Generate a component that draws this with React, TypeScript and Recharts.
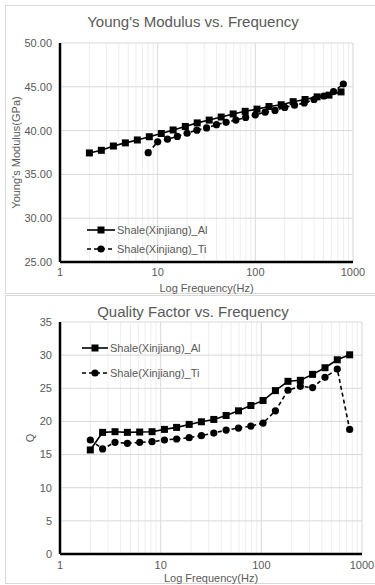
import { CartesianGrid, ReferenceLine, Scatter, ScatterChart, XAxis, YAxis } from "recharts";

const FONT = '"Liberation Sans", Arial, sans-serif';
const INK = "#595959";

// frequencies (Hz) shared by the Al runs and the Ti quality factor run
const freqs = [2, 2.65, 3.52, 4.67, 6.19, 8.21, 10.9, 14.4, 19.2, 25.4, 33.7, 44.7, 59.3, 78.7, 104, 138, 184, 244, 323, 429, 568, 754];
// Ti modulus run starts later with its own sweep
const tiFreqs = [8, 10, 12.6, 15.9, 20, 25.2, 31.7, 40, 50.2, 63.2, 79.6, 100, 126, 159, 200, 252, 317, 399, 502, 632, 796];

const youngAl = [37.45, 37.75, 38.24, 38.6, 38.93, 39.3, 39.67, 40.07, 40.47, 40.88, 41.2, 41.55, 41.9, 42.2, 42.45, 42.75, 42.95, 43.3, 43.55, 43.85, 44.05, 44.42];
const youngTi = [37.48, 38.72, 39.02, 39.34, 39.7, 40.05, 40.3, 40.68, 40.95, 41.2, 41.5, 41.8, 42.1, 42.3, 42.65, 42.9, 43.15, 43.55, 43.95, 44.45, 45.32];

const qAl = [15.7, 18.35, 18.45, 18.35, 18.4, 18.45, 18.8, 19.1, 19.55, 19.95, 20.3, 20.9, 21.6, 22.4, 23.15, 24.65, 26.05, 26.2, 27.1, 28.1, 29.3, 30.05];
const qTi = [17.2, 15.85, 16.85, 16.7, 16.85, 16.95, 17.2, 17.35, 17.55, 17.85, 18.25, 18.7, 19.0, 19.3, 19.75, 21.6, 24.7, 25.3, 25.1, 26.65, 27.9, 18.8];

const seriesNames = ["Shale(Xinjiang)_Al", "Shale(Xinjiang)_Ti"];

const xTicks = [1, 2, 3, 4, 5, 6, 7, 8, 9, 10, 20, 30, 40, 50, 60, 70, 80, 90, 100, 200, 300, 400, 500, 600, 700, 800, 900, 1000];
const xMajor = [1, 10, 100, 1000];
const youngTicks = [25, 30, 35, 40, 45, 50];
const qTicks = [0, 5, 10, 15, 20, 25, 30, 35];

function toPoints(xs: number[], ys: number[]) {
  return xs.map((f, i) => ({ f, v: ys[i] }));
}

const squareShape = (p: any) => <rect x={p.cx - 3.5} y={p.cy - 3.5} width={7} height={7} fill="#000" />;
const circleShape = (p: any) => <circle cx={p.cx} cy={p.cy} r={3.6} fill="#000" />;

type PanelProps = {
  top: number;
  height: number;
  title: string;
  titleY: number;
  plotTop: number;
  plotRight: number;
  xAxisHeight: number;
  tickSize: number;
  labelOffset: number;
  yDomain: [number, number];
  yTicks: number[];
  yDigits: number;
  yLabel: string;
  yLabelX: number;
  al: { f: number; v: number }[];
  ti: { f: number; v: number }[];
  legendY: [number, number];
  legendX: number;
  legendLineW: number;
};

function LegendRow({ y, x, w, dashed }: { y: number; x: number; w: number; dashed: boolean }) {
  return (
    <div style={{ position: "absolute", left: x, top: y - 8, height: 16, display: "flex", alignItems: "center" }}>
      <svg width={w} height={16}>
        <line x1={0} y1={8} x2={w} y2={8} stroke="#000" strokeWidth={1.6} strokeDasharray={dashed ? "4 3" : undefined} />
        {dashed ? (
          <circle cx={w / 2} cy={8} r={3.6} fill="#000" />
        ) : (
          <rect x={w / 2 - 3.5} y={4.5} width={7} height={7} fill="#000" />
        )}
      </svg>
      <span style={{ marginLeft: 2, fontSize: 11, color: INK }}>{seriesNames[dashed ? 1 : 0]}</span>
    </div>
  );
}

function Panel(props: PanelProps) {
  const { top, height } = props;
  return (
    <div style={{ position: "absolute", left: 0, top, width: 375, height }}>
      <div
        style={{
          position: "absolute",
          left: 5,
          top: 0,
          width: 380,
          height: height - 1,
          border: "1px solid #d9d9d9",
          boxSizing: "border-box"
        }}
      />
      <div
        style={{
          position: "absolute",
          left: 0,
          width: 386,
          top: props.titleY - top - 10,
          height: 20,
          lineHeight: "20px",
          textAlign: "center",
          fontSize: 15,
          color: INK
        }}
      >
        {props.title}
      </div>
      <div style={{ position: "absolute", left: 0, top: 0 }}>
        <ScatterChart
          width={375}
          height={height}
          margin={{ top: props.plotTop - top, right: 375 - props.plotRight, bottom: 0, left: 0 }}
        >
          <CartesianGrid stroke="#eeeeee" horizontal={false} />
          <CartesianGrid stroke="#d9d9d9" vertical={false} />
          {xMajor.slice(1).map((t) => (
            <ReferenceLine key={t} x={t} stroke="#dcdcdc" />
          ))}
          <XAxis
            dataKey="f"
            type="number"
            scale="log"
            domain={[1, 1000]}
            ticks={xTicks}
            interval={0}
            height={props.xAxisHeight}
            tickSize={props.tickSize}
            tickLine={false}
            tickFormatter={(t: number) => (xMajor.includes(t) ? String(t) : "")}
            tick={{ fill: INK, fontSize: 11 }}
            axisLine={{ stroke: "#000", strokeWidth: 2.5 }}
            allowDataOverflow
            label={{ value: "Log Frequency(Hz)", position: "insideBottom", offset: props.labelOffset, fill: INK, fontSize: 11 }}
          />
          <YAxis
            dataKey="v"
            type="number"
            domain={props.yDomain}
            ticks={props.yTicks}
            interval={0}
            width={60}
            tickLine={false}
            tickFormatter={(t: number) => t.toFixed(props.yDigits)}
            tick={{ fill: INK, fontSize: 11 }}
            axisLine={{ stroke: "#000", strokeWidth: 2.5 }}
            allowDataOverflow
            label={{
              value: props.yLabel,
              content: (lp: any) => {
                const vb = lp.viewBox;
                const cy = vb.y + vb.height / 2;
                return (
                  <text
                    x={props.yLabelX}
                    y={cy}
                    transform={`rotate(-90 ${props.yLabelX} ${cy})`}
                    textAnchor="middle"
                    dominantBaseline="central"
                    fill={INK}
                    fontSize={11}
                  >
                    {props.yLabel}
                  </text>
                );
              }
            }}
          />
          <Scatter
            data={props.al}
            shape={squareShape}
            line={{ stroke: "#000", strokeWidth: 1.6 }}
            isAnimationActive={false}
          />
          <Scatter
            data={props.ti}
            shape={circleShape}
            line={{ stroke: "#000", strokeWidth: 1.6, strokeDasharray: "4 3" }}
            isAnimationActive={false}
          />
        </ScatterChart>
      </div>
      <LegendRow y={props.legendY[0] - top} x={props.legendX} w={props.legendLineW} dashed={false} />
      <LegendRow y={props.legendY[1] - top} x={props.legendX} w={props.legendLineW} dashed={true} />
    </div>
  );
}

export default function App() {
  return (
    <div
      style={{
        position: "fixed",
        left: 0,
        top: 0,
        width: 375,
        height: 585,
        background: "#fff",
        overflow: "hidden",
        fontFamily: FONT
      }}
    >
      <Panel
        top={5}
        height={290}
        title="Young's Modulus vs. Frequency"
        titleY={22}
        plotTop={43}
        plotRight={353}
        xAxisHeight={33}
        tickSize={4}
        labelOffset={3}
        yDomain={[25, 50]}
        yTicks={youngTicks}
        yDigits={2}
        yLabel="Young's Modulus(GPa)"
        yLabelX={16}
        al={toPoints(freqs, youngAl)}
        ti={toPoints(tiFreqs, youngTi)}
        legendY={[230, 249]}
        legendX={87}
        legendLineW={28}
      />
      <Panel
        top={295}
        height={290}
        title="Quality Factor vs. Frequency"
        titleY={312}
        plotTop={322}
        plotRight={362}
        xAxisHeight={31}
        tickSize={5}
        labelOffset={3}
        yDomain={[0, 35]}
        yTicks={qTicks}
        yDigits={0}
        yLabel="Q"
        yLabelX={30}
        al={toPoints(freqs, qAl)}
        ti={toPoints(freqs, qTi)}
        legendY={[348, 373]}
        legendX={82}
        legendLineW={26}
      />
    </div>
  );
}
